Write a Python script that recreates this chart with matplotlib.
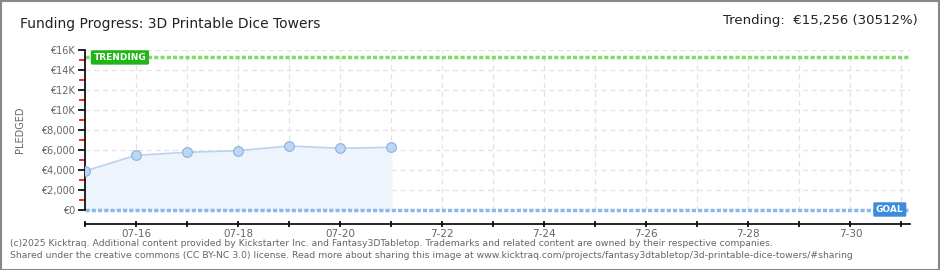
import numpy as np
import matplotlib
matplotlib.use('Agg')
import matplotlib.pyplot as plt
import matplotlib.dates as mdates
from matplotlib.ticker import FixedLocator, FuncFormatter
import datetime as dt

# data
dates = ['2025-07-15', '2025-07-16', '2025-07-17', '2025-07-18',
         '2025-07-19', '2025-07-20', '2025-07-21']
pledged = [3900, 5470, 5770, 5930, 6400, 6170, 6270]
goal = 50
trending = 15256
title = 'Funding Progress: 3D Printable Dice Towers'
trend_text = 'Trending:  €15,256 (30512%)'
footer1 = ('(c)2025 Kicktraq. Additional content provided by Kickstarter Inc. and '
           'Fantasy3DTabletop. Trademarks and related content are owned by their respective companies.')
footer2 = ('Shared under the creative commons (CC BY-NC 3.0) license. Read more about sharing this '
           'image at www.kicktraq.com/projects/fantasy3dtabletop/3d-printable-dice-towers/#sharing')

x = [dt.datetime.strptime(d, '%Y-%m-%d') for d in dates]
x0 = dt.datetime(2025, 7, 15)
x1 = dt.datetime(2025, 7, 31, 4)

fig = plt.figure(figsize=(9.4, 2.7), dpi=100)
W, H = 940, 270
ax = fig.add_axes([85 / W, 60 / H, (910 - 85) / W, 160 / H])

gray = '#666666'
ax.fill_between(x, pledged, 0, color='#edf4fc', zorder=1)
ax.plot(x, pledged, color='#b9d3f0', lw=1.2, zorder=2)
ax.plot(x, pledged, 'o', ms=7, mfc='#bcd6f5', mec='#8fb0d8', mew=0.8, zorder=3)

ax.axhline(goal, color='#8ab8e8', lw=2.5, ls=(0, (1.2, 0.6)), zorder=2, clip_on=False)
ax.axhline(trending, color='#7fdc6a', lw=2.5, ls=(0, (1.2, 0.6)), zorder=2)

ax.set_xlim(x0, x1)
ax.set_ylim(0, 16000)

ax.xaxis.set_major_locator(mdates.DayLocator())
def xfmt(v, pos):
    d = mdates.num2date(v)
    if d.day % 2 == 1:
        return ''
    if d.day <= 20:
        return d.strftime('%m-%d')
    return '%d-%d' % (d.month, d.day)
ax.xaxis.set_major_formatter(FuncFormatter(xfmt))

ax.yaxis.set_major_locator(FixedLocator(np.arange(0, 16001, 2000)))
ax.yaxis.set_minor_locator(FixedLocator(np.arange(1000, 16000, 2000)))
def yfmt(v, pos):
    if v >= 10000:
        return '€%dK' % (v // 1000)
    return '€{:,.0f}'.format(v)
ax.yaxis.set_major_formatter(FuncFormatter(yfmt))

ax.grid(True, which='major', color='#e2e2e2', ls=(0, (4, 3)), lw=0.9)
ax.xaxis.grid(True, color='#e2e2e2', ls=(0, (4, 3)), lw=0.9)
ax.set_axisbelow(True)

for s in ['top', 'right']:
    ax.spines[s].set_visible(False)
ax.spines['bottom'].set_position(('outward', 10))
ax.spines['left'].set_linewidth(1.2)
ax.spines['bottom'].set_linewidth(1.2)

ax.tick_params(axis='y', which='major', length=5, width=1.2, color='black',
               labelsize=7, labelcolor=gray, pad=2)
ax.tick_params(axis='y', which='minor', length=4, width=1.2, color='red')
ax.tick_params(axis='x', which='major', length=5, width=1.2, direction='inout',
               labelsize=7.5, labelcolor=gray, pad=1)
ax.set_ylabel('PLEDGED', fontsize=7, color=gray, labelpad=12)

ax.text(x0 + dt.timedelta(hours=4), trending, 'TRENDING', color='white', fontsize=6.5,
        fontweight='bold', va='center', ha='left', zorder=5,
        bbox=dict(boxstyle='round,pad=0.3,rounding_size=0.15', fc='#22b51a', ec='none'))
ax.text(x1 - dt.timedelta(hours=3), goal, 'GOAL', color='white', fontsize=6.5,
        fontweight='bold', va='center', ha='right', zorder=5,
        bbox=dict(boxstyle='round,pad=0.3,rounding_size=0.15', fc='#3d8bdc', ec='none'))

fig.text(20 / W, 1 - 24 / H, title, fontsize=10, color='#222222', va='center', ha='left')
fig.text(918 / W, 1 - 21 / H, trend_text, fontsize=9.5, color='#222222', va='center', ha='right')
fig.text(10 / W, 1 - 243 / H, footer1, fontsize=6.7, color=gray, va='center', ha='left')
fig.text(10 / W, 1 - 256 / H, footer2, fontsize=6.7, color=gray, va='center', ha='left')

border = plt.Rectangle((0.5 / W, 0.5 / H), 1 - 1.5 / W, 1 - 1.5 / H, transform=fig.transFigure,
                       fill=False, ec='#888888', lw=1.5)
fig.patches.append(border)

fig.savefig('out.png', dpi=100)
